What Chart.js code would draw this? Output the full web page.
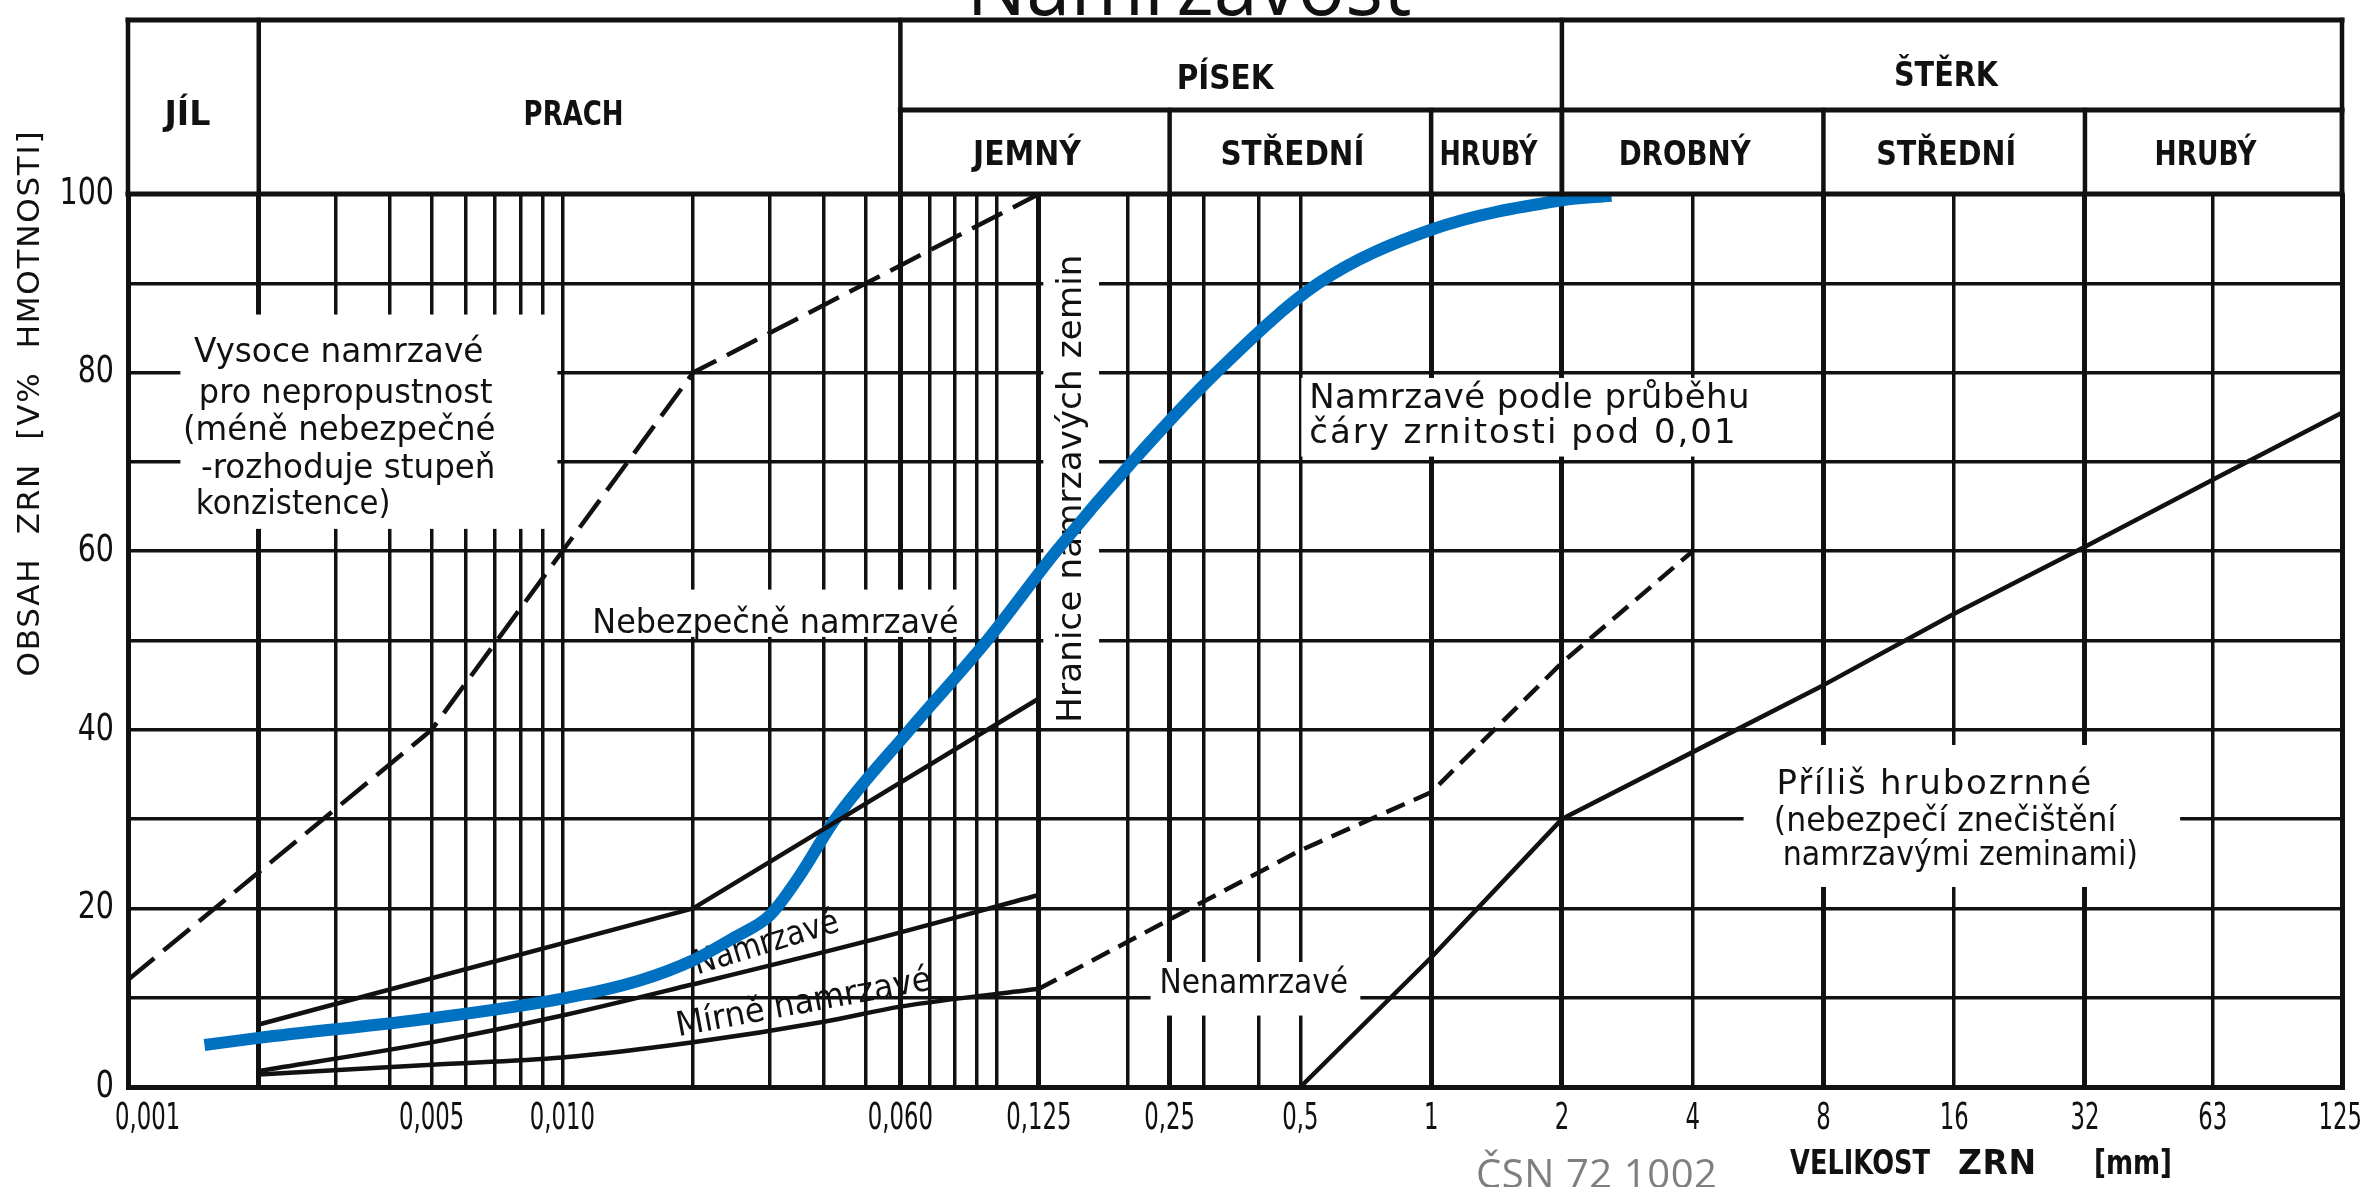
<!DOCTYPE html>
<html>
<head>
<meta charset="utf-8">
<title>Namrzavost</title>
<script src="https://cdn.jsdelivr.net/npm/chart.js@4.4.1/dist/chart.umd.min.js"></script>
<style>
  html, body { margin: 0; padding: 0; background: #fff; }
  #frost { display: block; }
</style>
</head>
<body>
<canvas id="frost" width="2367" height="1187" style="width:2367px;height:1187px"></canvas>
<script>
// grain size [mm] on a log axis, content [% by weight]
const gridSizes = [0.001, 0.002, 0.003, 0.004, 0.005, 0.006, 0.007, 0.008, 0.009, 0.01,
  0.02, 0.03, 0.04, 0.05, 0.06, 0.07, 0.08, 0.09, 0.1, 0.125, 0.2, 0.25, 0.3, 0.4, 0.5,
  1, 2, 4, 8, 16, 32, 63, 125];
const boldSizes = [0.001, 0.002, 0.06, 0.125, 0.25, 1, 2, 8, 32, 125];
const labelSizes = [0.001, 0.005, 0.01, 0.06, 0.125, 0.25, 0.5, 1, 2, 4, 8, 16, 32, 63, 125];
const labelTexts = ['0,001', '0,005', '0,010', '0,060', '0,125', '0,25', '0,5', '1', '2', '4', '8', '16', '32', '63', '125'];
const percentTicks = [0, 20, 40, 60, 80, 100];

const mainClasses = ['JÍL', 'PRACH', 'PÍSEK', 'ŠTĚRK'];
const mainBounds = [0.001, 0.002, 0.06, 2, 125];
const subClasses = ['JEMNÝ', 'STŘEDNÍ', 'HRUBÝ', 'DROBNÝ', 'STŘEDNÍ', 'HRUBÝ'];
const subBounds = [0.06, 0.25, 1, 2, 8, 32, 125];

// boundary lines
const veryFrostX = [0.001, 0.005, 0.02, 0.125];
const veryFrostY = [12, 40, 80, 100];
const dangerX = [0.002, 0.02, 0.125];
const dangerY = [7, 20, 43.5];
const frostX = [0.002, 0.005, 0.01, 0.02, 0.05, 0.125];
const frostY = [1.8, 5, 8, 11.5, 16.3, 21.5];
const mildX = [0.002, 0.005, 0.01, 0.02, 0.04, 0.06, 0.125];
const mildY = [1.4, 2.5, 3.3, 5, 7.3, 9, 11];
const byCurveX = [0.125, 0.5, 1, 2, 4];
const byCurveY = [11, 26.5, 33, 47.5, 60];
const coarseX = [0.5, 1, 2, 4, 8, 16, 32, 63, 125];
const coarseY = [0, 14.5, 30, 37.5, 45, 53, 60.5, 68, 75.5];

// grading curve of the sample (blue)
const sampleX = [0.0015, 0.002, 0.005, 0.01, 0.015, 0.02, 0.025, 0.03, 0.035, 0.0425, 0.063, 0.095, 0.137, 0.205, 0.32, 0.55, 1, 2, 2.6];
const sampleY = [4.7, 5.5, 7.7, 9.9, 11.9, 14.2, 16.8, 19.2, 23.5, 30, 40, 50, 60, 70, 80, 90, 96, 99.3, 99.8];

const INK = '#111';
const FONT = '"DejaVu Sans", "Liberation Sans", sans-serif';

// texts inside the plot: text, x from, x to, y
const notes = [
  ['Vysoce namrzavé', 0.001418, 0.006582, 82.2],
  ['pro nepropustnost', 0.001456, 0.006904, 77.6],
  ['(méně nebezpečné', 0.001338, 0.007015, 73.4],
  ['-rozhoduje stupeň', 0.001472, 0.007015, 69.2],
  ['konzistence)', 0.001433, 0.004023, 65.2],
  ['Nebezpečně namrzavé', 0.01172, 0.0817, 51.8],
  ['Namrzavé podle průběhu', 0.524, 5.41, 77.0],
  ['čáry zrnitosti pod 0,01', 0.524, 5.02, 73.1],
  ['Nenamrzavé', 0.237, 0.644, 11.5],
  ['Příliš hrubozrnné', 6.24, 33.1, 33.8],
  ['(nebezpečí znečištění', 6.15, 37.8, 29.7],
  ['namrzavými zeminami)', 6.45, 42.4, 25.9]
];
// rotated texts: text, x centre, y centre, length px, angle
const slantNotes = [
  ['Namrzavé', 0.0295, 16, 150, -17],
  ['Mírně namrzavé', 0.036, 9.3, 259, -10.5],
  ['Hranice namrzavých zemin', 0.149, 67, 468, -90]
];
// paper left blank behind the texts: x from, x to, y from, y to
const blanks = [
  [0.00132, 0.00974, 62.5, 86.5],
  [0.01124, 0.0837, 50.4, 55.7],
  [0.128, 0.172, 41, 97],
  [0.5025, 5.645, 70.6, 79.4],
  [0.226, 0.687, 8, 14],
  [5.24, 53.0, 22.4, 38.3]
];

function fitText(ctx, text, x, y, width, size, opts) {
  opts = opts || {};
  ctx.save();
  ctx.font = (opts.weight || 'normal') + ' ' + size + 'px ' + (opts.family || FONT);
  ctx.fillStyle = opts.color || INK;
  ctx.textBaseline = opts.baseline || 'middle';
  ctx.textAlign = 'left';
  ctx.translate(x, y);
  if (opts.angle) ctx.rotate(opts.angle * Math.PI / 180);
  var w = ctx.measureText(text).width;
  var sx = 1;
  if (w > width || text.length < 2 || !('letterSpacing' in ctx)) {
    sx = width / w;
  } else {
    ctx.letterSpacing = ((width - w) / (text.length - 1)).toFixed(2) + 'px';
  }
  ctx.translate(opts.align === 'left' ? 0 : -width / 2, 0);
  ctx.scale(sx, 1);
  ctx.fillText(text, 0, 0);
  ctx.restore();
}

function line(ctx, x1, y1, x2, y2, w) {
  ctx.beginPath();
  ctx.lineWidth = w;
  ctx.moveTo(x1, y1);
  ctx.lineTo(x2, y2);
  ctx.stroke();
}

const paper = {
  id: 'paper',
  beforeDatasetsDraw(chart) {
    const ctx = chart.ctx, xs = chart.scales.x, ys = chart.scales.y;
    ctx.save();
    ctx.fillStyle = '#fff';
    blanks.forEach(function(b) {
      const l = xs.getPixelForValue(b[0]), r = xs.getPixelForValue(b[1]);
      const t = ys.getPixelForValue(b[3]), bt = ys.getPixelForValue(b[2]);
      ctx.fillRect(l, t, r - l, bt - t);
    });
    ctx.restore();
    notes.forEach(function(n) {
      const l = xs.getPixelForValue(n[1]), r = xs.getPixelForValue(n[2]);
      fitText(ctx, n[0], l, ys.getPixelForValue(n[3]), r - l, 34, { align: 'left' });
    });
    slantNotes.forEach(function(n) {
      fitText(ctx, n[0], xs.getPixelForValue(n[1]), ys.getPixelForValue(n[2]), n[3], 34, { angle: n[4] });
    });
  },
  afterDraw(chart) {
    const ctx = chart.ctx, xs = chart.scales.x, ys = chart.scales.y;
    const area = chart.chartArea;
    const top = 20, mid = 110, bottom = area.top;
    ctx.save();
    ctx.strokeStyle = INK;
    ctx.lineCap = 'square';
    // header table
    line(ctx, area.left, top, area.right, top, 5);
    line(ctx, xs.getPixelForValue(0.06), mid, area.right, mid, 5);
    line(ctx, area.left, bottom, area.right, bottom, 5);
    mainBounds.forEach(function(v) {
      const px = xs.getPixelForValue(v);
      line(ctx, px, top, px, bottom, 4.5);
    });
    subBounds.forEach(function(v) {
      const px = xs.getPixelForValue(v);
      line(ctx, px, mid, px, bottom, 4.5);
    });
    ctx.restore();

    const mainW = [46, 100, 97, 104], mainY = [116, 116, 80, 77];
    mainClasses.forEach(function(t, i) {
      const cx = (xs.getPixelForValue(mainBounds[i]) + xs.getPixelForValue(mainBounds[i + 1])) / 2;
      fitText(ctx, t, cx - 6, mainY[i], mainW[i], 34, { weight: 'bold' });
    });
    const subW = [108, 144, 98, 132, 140, 102];
    subClasses.forEach(function(t, i) {
      const cx = (xs.getPixelForValue(subBounds[i]) + xs.getPixelForValue(subBounds[i + 1])) / 2;
      fitText(ctx, t, cx - 8, 156, subW[i], 34, { weight: 'bold' });
    });

    // x tick labels
    ctx.save();
    ctx.font = '38px ' + FONT;
    labelSizes.forEach(function(v, i) {
      const w = ctx.measureText(labelTexts[i]).width * 0.6;
      let cx = xs.getPixelForValue(v);
      cx = Math.min(Math.max(cx, 115 + w / 2), 2362 - w / 2);
      fitText(ctx, labelTexts[i], cx, 1119, w, 38);
    });
    ctx.restore();

    // y tick labels
    ctx.save();
    ctx.font = '38px ' + FONT;
    percentTicks.forEach(function(v) {
      const w = ctx.measureText(String(v)).width * 0.75;
      fitText(ctx, String(v), 114 - w, ys.getPixelForValue(v), w, 38, { align: 'left' });
    });
    ctx.restore();

    // axis titles
    fitText(ctx, 'OBSAH  ZRN  [V%  HMOTNOSTI]', 31, 404, 545, 31, { angle: -90 });
    fitText(ctx, 'VELIKOST', 1790, 1165, 140, 33, { align: 'left', weight: 'bold' });
    fitText(ctx, 'ZRN', 1958, 1165, 78, 33, { align: 'left', weight: 'bold' });
    fitText(ctx, '[mm]', 2094, 1165, 78, 33, { align: 'left', weight: 'bold' });

    // page title (mostly above the page edge) and source
    fitText(ctx, 'Namrzavost', 1189, 15, 445, 84, { family: '"Open Sans", sans-serif', baseline: 'alphabetic' });
    fitText(ctx, 'ČSN 72 1002', 1476, 1188, 241, 40, { family: '"Open Sans", sans-serif', color: '#7f7f7f', align: 'left', baseline: 'alphabetic' });
  }
};

function series(xs, ys, style) {
  return Object.assign({
    data: xs.map(function(x, i) { return { x: x, y: ys[i] }; }),
    pointRadius: 0,
    fill: false,
    borderColor: INK,
    borderWidth: 4.5,
    borderJoinStyle: 'round',
    tension: 0
  }, style);
}

const chart = new Chart(document.getElementById('frost'), {
  type: 'line',
  data: {
    datasets: [
      series(veryFrostX, veryFrostY, { borderDash: [34, 12] }),
      series(dangerX, dangerY, {}),
      series(frostX, frostY, { cubicInterpolationMode: 'monotone' }),
      series(mildX, mildY, { cubicInterpolationMode: 'monotone' }),
      series(byCurveX, byCurveY, { borderDash: [20, 10] }),
      series(coarseX, coarseY, {}),
      series(sampleX, sampleY, { borderColor: '#0070C0', borderWidth: 12, borderCapStyle: 'butt', cubicInterpolationMode: 'monotone' })
    ]
  },
  options: {
    responsive: false,
    animation: false,
    devicePixelRatio: 1,
    layout: { padding: { top: 194, right: 25, left: 0, bottom: 0 } },
    plugins: { legend: { display: false }, tooltip: { enabled: false } },
    scales: {
      x: {
        type: 'logarithmic',
        min: 0.001,
        max: 125,
        afterBuildTicks: function(s) { s.ticks = gridSizes.map(function(v) { return { value: v }; }); },
        afterFit: function(s) { s.height = 100; },
        ticks: { display: false },
        grid: {
          color: INK,
          drawTicks: false,
          lineWidth: function(c) { return c.tick && boldSizes.includes(c.tick.value) ? 5 : 3.5; }
        },
        border: { display: true, color: INK, width: 5 }
      },
      y: {
        min: 0,
        max: 100,
        afterFit: function(s) { s.width = 128; },
        ticks: { display: false, stepSize: 10 },
        grid: { color: INK, drawTicks: false, lineWidth: 3.5 },
        border: { display: true, color: INK, width: 5 }
      }
    }
  },
  plugins: [paper]
});
</script>
</body>
</html>
